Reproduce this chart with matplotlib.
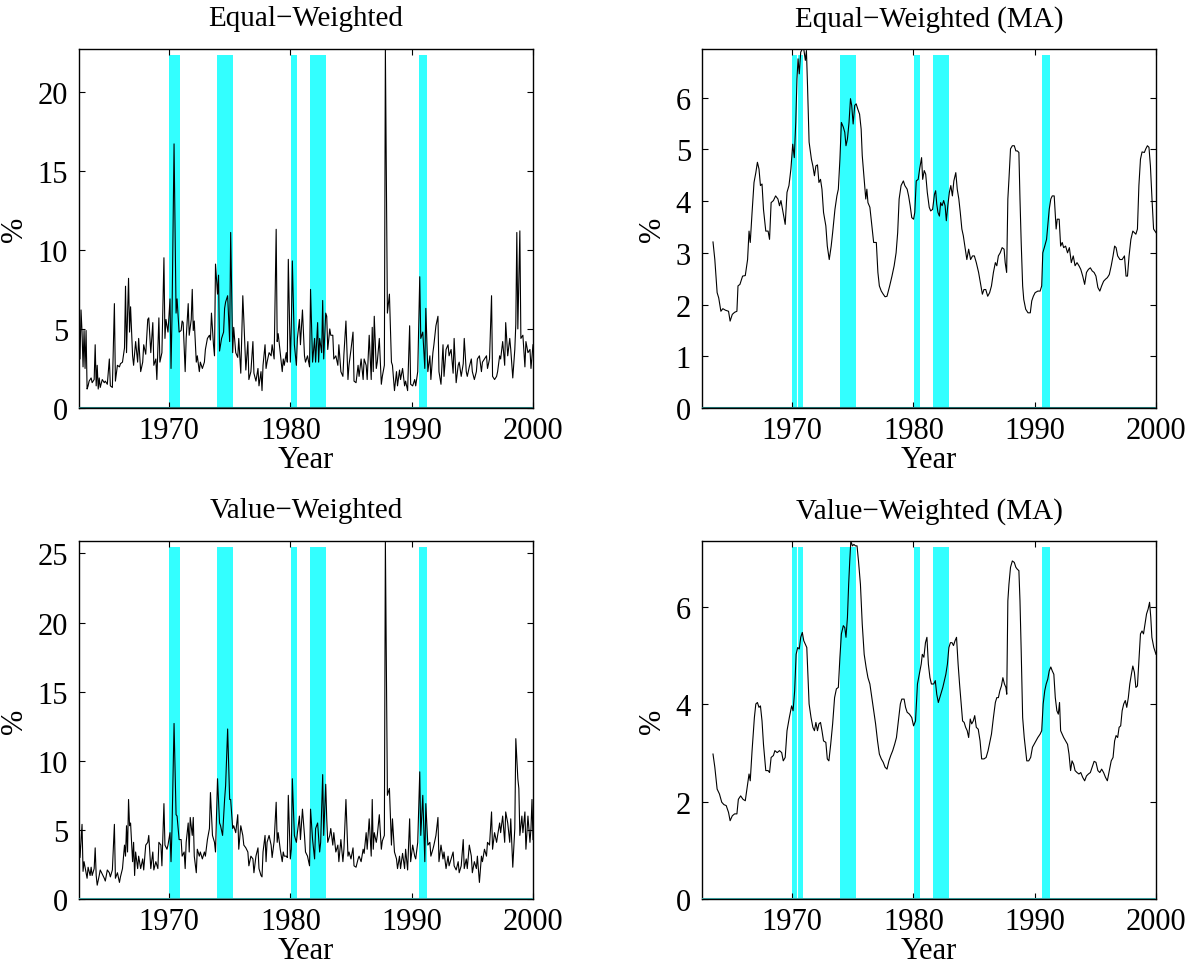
import numpy as np
import matplotlib
matplotlib.use("Agg")
import matplotlib.pyplot as plt

# ---- recessions (NBER peak / trough, year + month/12) --------------------
REC_START = [1970 + 0 / 12, 1973 + 11 / 12, 1980 + 1 / 12, 1981 + 7 / 12, 1990 + 7 / 12]
REC_END = [1970 + 11 / 12, 1975 + 3 / 12, 1980 + 7 / 12, 1982 + 11 / 12, 1991 + 3 / 12]

# ---- monthly volatility, months counted from 1962:07 ---------------------
ew_month = [0, 1, 2, 3, 4, 5, 6, 7, 8, 9, 10, 12, 13, 15, 16, 17, 18, 19, 20, 21, 23, 25, 26, 28, 30, 31,
            33, 35, 36, 38, 40, 41, 43, 45, 46, 47, 49, 50, 51, 53, 54, 56, 58, 59, 61, 63, 64, 66, 68, 69,
            71, 73, 74, 76, 77, 79, 80, 82, 84, 85, 86, 88, 90, 91, 92, 94, 96, 97, 99, 101, 102, 103, 105,
            106, 108, 109, 111, 112, 113, 114, 116, 117, 119, 120, 122, 124, 125, 127, 129, 130, 131, 133,
            134, 135, 137, 138, 139, 141, 143, 144, 145, 147, 149, 150, 152, 153, 155, 157, 158, 160, 162,
            163, 165, 167, 168, 170, 172, 173, 175, 177, 178, 180, 181, 182, 184, 185, 186, 188, 190, 191,
            193, 195, 196, 197, 199, 201, 202, 203, 205, 206, 207, 209, 210, 211, 213, 215, 216, 218, 219,
            221, 223, 224, 226, 228, 229, 231, 233, 234, 236, 237, 238, 240, 241, 242, 244, 245, 246, 248,
            249, 251, 252, 254, 256, 257, 259, 261, 262, 264, 266, 267, 269, 271, 272, 274, 276, 277, 279,
            281, 282, 284, 285, 287, 289, 290, 291, 292, 294, 295, 297, 299, 300, 302, 303, 305, 307, 309,
            310, 312, 314, 315, 317, 318, 320, 322, 323, 325, 327, 328, 330, 332, 333, 335, 337, 338, 340,
            342, 343, 345, 347, 348, 350, 351, 353, 355, 356, 358, 360, 361, 363, 365, 366, 368, 370, 371,
            373, 375, 376, 378, 380, 381, 383, 384, 386, 388, 389, 391, 393, 394, 396, 398, 399, 401, 403,
            404, 406, 408, 409, 411, 413, 414, 416, 417, 419, 421, 422, 424, 426, 427, 429, 431, 432, 433,
            434, 436, 437, 439, 441, 442, 444, 446, 447, 449]
ew_vol = [5.3, 3.1, 6.2, 4.8, 2.6, 4.9, 2.5, 4.9, 1.2, 1.4, 1.7, 1.9, 1.6, 1.8, 4.0, 1.4, 2.7, 1.2, 1.9, 1.3,
          1.8, 1.6, 1.7, 1.5, 3.1, 1.4, 1.3, 6.6, 1.7, 2.7, 2.6, 2.8, 2.9, 3.8, 7.7, 3.5, 8.2, 4.8, 6.4, 3.3,
          2.7, 4.2, 2.9, 4.4, 2.3, 2.9, 4.0, 3.4, 5.6, 5.7, 3.5, 5.4, 2.7, 3.1, 1.8, 5.7, 2.9, 3.5, 9.5, 4.4,
          5.6, 4.8, 6.9, 2.5, 5.8, 16.7, 6.0, 6.9, 4.8, 4.9, 5.5, 5.4, 2.3, 4.4, 6.6, 4.6, 5.6, 7.5, 4.9,
          5.5, 2.9, 3.3, 2.3, 2.9, 2.5, 2.9, 3.7, 4.4, 4.6, 4.3, 6.0, 4.0, 3.3, 9.1, 7.2, 8.4, 3.6, 4.4, 4.8,
          6.3, 6.7, 7.1, 4.2, 11.1, 3.5, 5.1, 3.5, 3.2, 4.4, 2.2, 7.1, 5.6, 2.4, 4.2, 1.8, 2.3, 4.2, 2.2,
          1.7, 2.5, 1.4, 2.3, 1.1, 2.7, 4.0, 2.5, 2.9, 3.5, 3.3, 4.0, 3.1, 11.3, 4.2, 4.7, 3.5, 2.3, 3.1,
          2.7, 3.5, 2.9, 9.4, 2.9, 5.2, 9.3, 4.0, 2.7, 4.4, 5.6, 4.0, 6.2, 3.3, 2.9, 3.3, 2.6, 7.5, 2.9, 4.4,
          2.9, 5.4, 2.9, 4.4, 3.5, 6.8, 3.1, 6.0, 5.8, 3.7, 5.0, 4.6, 4.6, 3.1, 3.3, 2.7, 4.0, 2.3, 2.0, 3.4,
          5.5, 1.8, 2.7, 3.7, 4.8, 1.7, 1.6, 2.7, 2.0, 3.1, 1.8, 3.1, 2.7, 1.8, 4.6, 1.8, 5.1, 2.3, 5.8, 2.5,
          2.9, 4.4, 1.5, 2.0, 2.7, 22.7, 6.0, 7.2, 2.9, 2.7, 1.1, 2.3, 1.4, 2.4, 1.8, 2.5, 1.4, 1.7, 1.1,
          5.2, 1.5, 1.4, 1.8, 1.4, 2.3, 8.3, 4.4, 4.8, 2.5, 6.3, 2.3, 3.3, 1.8, 3.5, 4.0, 5.2, 5.8, 2.3, 1.5,
          4.0, 2.0, 3.7, 4.0, 3.3, 3.7, 2.2, 4.4, 1.6, 2.7, 2.9, 2.0, 2.8, 4.4, 2.3, 2.0, 2.6, 3.1, 2.3, 1.8,
          2.3, 3.1, 3.3, 2.3, 2.9, 3.1, 3.3, 2.5, 3.1, 7.1, 2.0, 1.8, 2.0, 2.3, 3.3, 3.1, 4.2, 2.7, 5.4, 3.3,
          4.4, 3.7, 1.9, 3.7, 5.3, 11.1, 5.0, 11.2, 4.4, 4.6, 2.6, 4.2, 3.5, 3.7, 2.5, 4.0]

vw_month = [0, 1, 3, 4, 5, 7, 8, 9, 11, 12, 13, 15, 16, 17, 18, 20, 21, 23, 25, 26, 28, 30, 31, 33, 35, 36,
            38, 40, 41, 43, 45, 46, 47, 48, 49, 50, 51, 53, 54, 55, 56, 58, 59, 61, 63, 64, 66, 68, 69, 71,
            73, 74, 76, 78, 79, 81, 82, 84, 85, 87, 88, 90, 91, 92, 94, 96, 97, 99, 101, 102, 104, 105, 106,
            108, 109, 110, 112, 113, 114, 116, 117, 119, 120, 122, 124, 125, 127, 129, 130, 132, 134, 135,
            137, 139, 140, 142, 144, 145, 147, 149, 150, 152, 153, 155, 157, 158, 160, 162, 163, 165, 167,
            168, 170, 172, 173, 175, 177, 178, 180, 181, 182, 184, 185, 186, 188, 190, 191, 193, 195, 196,
            197, 199, 201, 202, 203, 205, 206, 207, 209, 210, 211, 213, 215, 216, 218, 219, 221, 223, 224,
            226, 228, 229, 231, 233, 234, 236, 238, 239, 241, 242, 244, 245, 246, 248, 249, 251, 252, 254,
            256, 257, 259, 261, 262, 264, 266, 267, 269, 271, 272, 274, 276, 277, 279, 281, 282, 284, 285,
            287, 289, 290, 291, 292, 294, 295, 297, 299, 300, 302, 303, 305, 307, 309, 310, 312, 314, 315,
            317, 318, 320, 322, 323, 325, 327, 328, 330, 332, 333, 335, 337, 338, 340, 342, 343, 345, 347,
            348, 350, 351, 353, 355, 356, 358, 360, 361, 363, 365, 366, 368, 370, 371, 373, 375, 376, 378,
            380, 381, 383, 384, 386, 388, 389, 391, 393, 394, 396, 398, 399, 401, 403, 404, 406, 408, 409,
            411, 413, 414, 416, 417, 419, 421, 422, 424, 426, 427, 429, 431, 432, 434, 435, 436, 438, 439,
            441, 442, 444, 446, 447, 448, 449]
vw_vol = [4.9, 3.0, 5.4, 2.0, 2.7, 1.9, 1.5, 2.3, 1.7, 2.3, 1.7, 2.2, 3.7, 1.7, 1.0, 1.7, 2.1, 1.8, 1.5, 1.3,
          2.1, 1.9, 1.6, 2.1, 5.4, 1.5, 1.9, 1.2, 1.6, 2.2, 3.9, 3.1, 5.3, 3.4, 7.2, 5.3, 5.5, 2.7, 4.1, 1.7,
          3.4, 2.2, 3.1, 2.2, 2.9, 2.1, 3.9, 4.1, 4.6, 2.2, 3.4, 2.1, 2.7, 2.2, 4.1, 3.9, 2.4, 6.9, 3.9, 3.6,
          3.9, 4.8, 2.7, 5.1, 12.7, 6.1, 6.0, 4.3, 4.3, 3.1, 3.4, 2.2, 4.1, 5.5, 3.4, 5.9, 4.6, 5.9, 3.1,
          1.9, 3.6, 3.1, 3.4, 2.9, 3.4, 3.1, 4.3, 5.1, 7.7, 4.6, 4.1, 3.4, 8.7, 5.5, 5.3, 4.6, 7.2, 8.2, 12.3,
          7.2, 7.2, 5.1, 5.3, 4.8, 6.1, 3.6, 5.3, 4.6, 3.9, 3.7, 3.4, 2.4, 3.1, 2.9, 1.9, 3.1, 3.7, 2.2, 1.7,
          1.6, 3.4, 4.6, 2.7, 4.1, 4.6, 3.9, 3.0, 4.2, 7.0, 4.1, 4.8, 3.6, 2.7, 3.4, 3.1, 3.1, 3.0, 7.5, 2.9,
          3.6, 8.7, 4.6, 4.1, 4.8, 6.0, 4.3, 6.5, 4.6, 3.4, 3.1, 2.4, 6.5, 4.3, 2.9, 5.1, 5.5, 3.4, 4.1, 9.0,
          4.6, 8.3, 5.8, 4.1, 4.6, 5.1, 3.9, 4.8, 3.4, 3.9, 2.7, 4.3, 2.7, 3.6, 7.2, 3.1, 3.4, 2.9, 3.7, 2.4,
          2.3, 2.9, 3.1, 2.7, 3.6, 3.3, 4.8, 3.6, 5.8, 3.1, 7.2, 3.6, 4.8, 4.1, 4.6, 6.1, 3.6, 4.2, 4.6,
          25.9, 7.5, 8.0, 3.9, 5.8, 3.4, 2.9, 2.2, 3.1, 2.2, 3.3, 2.2, 3.6, 2.1, 5.8, 2.7, 3.9, 3.1, 2.9, 4.1,
          9.2, 4.6, 7.5, 2.7, 6.9, 3.9, 4.1, 3.1, 3.6, 3.9, 4.6, 5.9, 2.7, 3.9, 2.9, 3.4, 2.2, 3.1, 2.4, 2.9,
          3.4, 2.4, 2.1, 2.7, 1.9, 2.4, 4.3, 2.2, 2.9, 2.2, 3.9, 3.1, 1.9, 2.7, 2.2, 3.1, 1.2, 3.1, 2.7, 3.6,
          3.1, 4.1, 3.9, 6.3, 3.6, 4.8, 4.1, 4.6, 5.5, 4.8, 6.0, 4.1, 6.3, 5.5, 4.1, 5.8, 2.3, 5.1, 11.6, 8.7,
          8.0, 4.6, 6.0, 4.8, 6.3, 3.6, 6.0, 4.1, 5.1, 7.2, 4.3]

# ---- moving averages (decimal year, %) -----------------------------------
ew_ma_year = [1963.49, 1963.64, 1963.83, 1963.96, 1964.14, 1964.30, 1964.52, 1964.77, 1964.90, 1965.08,
              1965.27, 1965.46, 1965.55, 1965.71, 1965.93, 1966.15, 1966.34, 1966.46, 1966.56, 1966.71,
              1966.87, 1967.02, 1967.15, 1967.28, 1967.40, 1967.53, 1967.65, 1967.84, 1968.03, 1968.15,
              1968.28, 1968.47, 1968.65, 1968.84, 1968.97, 1969.09, 1969.22, 1969.44, 1969.59, 1969.75,
              1969.91, 1970.06, 1970.19, 1970.31, 1970.41, 1970.50, 1970.60, 1970.72, 1970.85, 1970.97,
              1971.10, 1971.19, 1971.28, 1971.41, 1971.60, 1971.72, 1971.85, 1971.97, 1972.10, 1972.22,
              1972.35, 1972.47, 1972.60, 1972.79, 1972.91, 1973.07, 1973.23, 1973.35, 1973.54, 1973.70,
              1973.82, 1973.95, 1974.07, 1974.23, 1974.35, 1974.45, 1974.57, 1974.70, 1974.82, 1974.92,
              1975.04, 1975.17, 1975.29, 1975.42, 1975.57, 1975.70, 1975.79, 1975.95, 1976.08, 1976.17,
              1976.26, 1976.42, 1976.58, 1976.73, 1976.95, 1977.08, 1977.20, 1977.36, 1977.52, 1977.67,
              1977.83, 1977.92, 1978.05, 1978.24, 1978.42, 1978.58, 1978.71, 1978.83, 1978.99, 1979.18,
              1979.30, 1979.49, 1979.61, 1979.74, 1979.87, 1980.02, 1980.12, 1980.24, 1980.40, 1980.52,
              1980.68, 1980.77, 1980.90, 1981.02, 1981.15, 1981.31, 1981.43, 1981.59, 1981.74, 1981.84,
              1981.93, 1982.03, 1982.15, 1982.25, 1982.37, 1982.50, 1982.62, 1982.72, 1982.84, 1982.97,
              1983.09, 1983.22, 1983.34, 1983.50, 1983.62, 1983.75, 1983.87, 1984.00, 1984.12, 1984.25,
              1984.41, 1984.56, 1984.72, 1984.88, 1985.03, 1985.19, 1985.38, 1985.57, 1985.69, 1985.82,
              1985.97, 1986.13, 1986.29, 1986.44, 1986.60, 1986.76, 1986.88, 1987.01, 1987.16, 1987.32,
              1987.48, 1987.57, 1987.69, 1987.79, 1987.88, 1988.01, 1988.16, 1988.32, 1988.45, 1988.57,
              1988.70, 1988.79, 1988.89, 1989.01, 1989.10, 1989.26, 1989.45, 1989.64, 1989.76, 1989.89,
              1990.04, 1990.26, 1990.45, 1990.58, 1990.67, 1990.83, 1990.98, 1991.08, 1991.20, 1991.33,
              1991.45, 1991.61, 1991.77, 1991.86, 1992.02, 1992.14, 1992.27, 1992.39, 1992.55, 1992.71,
              1992.86, 1993.02, 1993.18, 1993.33, 1993.49, 1993.65, 1993.80, 1993.96, 1994.12, 1994.27,
              1994.43, 1994.59, 1994.74, 1994.90, 1995.05, 1995.21, 1995.37, 1995.52, 1995.68, 1995.84,
              1995.99, 1996.15, 1996.31, 1996.46, 1996.59, 1996.71, 1996.84, 1997.03, 1997.21, 1997.40,
              1997.53, 1997.65, 1997.78, 1997.93, 1998.09, 1998.22, 1998.34, 1998.47, 1998.59, 1998.72,
              1998.85, 1999.04, 1999.16, 1999.29, 1999.42, 1999.54, 1999.67, 1999.80, 2000.00]
ew_ma = [3.21, 2.87, 2.23, 2.13, 1.87, 1.92, 1.89, 1.87, 1.68, 1.81, 1.85, 1.87, 2.36, 2.39, 2.55, 2.56, 2.87,
         3.42, 3.20, 3.78, 4.36, 4.55, 4.75, 4.62, 4.30, 4.33, 3.84, 3.42, 3.42, 3.26, 3.97, 4.01, 4.10, 4.04,
         3.91, 4.01, 3.84, 3.55, 4.17, 4.30, 4.62, 5.10, 4.84, 5.52, 6.36, 6.75, 6.46, 6.88, 6.94, 6.94, 6.72,
         6.91, 6.23, 5.14, 4.81, 4.68, 4.49, 4.68, 4.70, 4.36, 4.42, 4.23, 3.78, 3.52, 3.13, 2.87, 3.13, 3.39,
         3.84, 4.10, 4.23, 4.81, 5.52, 5.43, 5.33, 5.07, 5.20, 5.52, 5.98, 5.85, 5.49, 5.85, 5.88, 5.78, 5.68,
         5.39, 4.88, 4.42, 4.04, 4.23, 3.97, 3.88, 3.52, 3.20, 3.20, 2.62, 2.36, 2.26, 2.20, 2.15, 2.16, 2.24,
         2.36, 2.55, 2.75, 3.00, 3.39, 4.04, 4.30, 4.39, 4.30, 4.23, 4.10, 3.91, 3.68, 3.65, 3.78, 4.39, 4.42,
         4.62, 4.84, 4.42, 4.59, 4.52, 4.17, 3.88, 3.81, 3.84, 4.13, 4.20, 3.94, 3.78, 3.71, 3.97, 3.91, 4.01,
         3.91, 3.62, 3.91, 4.17, 4.30, 4.10, 4.39, 4.55, 4.23, 4.04, 3.78, 3.46, 3.33, 3.13, 2.87, 3.07, 2.87,
         2.94, 2.94, 2.81, 2.62, 2.36, 2.20, 2.29, 2.29, 2.16, 2.23, 2.36, 2.62, 2.81, 2.75, 2.94, 3.00, 3.10,
         3.07, 2.81, 2.62, 4.04, 4.42, 5.01, 5.07, 5.07, 4.97, 4.97, 4.94, 4.04, 3.20, 2.36, 2.10, 1.91, 1.84,
         1.84, 2.07, 2.16, 2.23, 2.26, 2.26, 2.36, 3.00, 3.13, 3.26, 3.52, 3.84, 4.04, 4.10, 4.10, 3.46, 3.65,
         3.65, 3.13, 3.20, 3.10, 3.13, 3.00, 3.10, 2.81, 2.94, 2.75, 2.81, 2.75, 2.68, 2.55, 2.39, 2.62, 2.68,
         2.71, 2.65, 2.62, 2.55, 2.33, 2.26, 2.36, 2.45, 2.49, 2.52, 2.58, 2.75, 2.94, 3.13, 3.10, 2.94, 2.87,
         2.87, 2.94, 2.55, 2.55, 2.94, 3.26, 3.42, 3.39, 3.36, 3.46, 4.30, 4.81, 4.95, 4.94, 5.01, 5.07, 5.04,
         4.68, 4.04, 3.46, 3.39]

vw_ma_year = [1963.49, 1963.64, 1963.83, 1964.02, 1964.21, 1964.39, 1964.58, 1964.77, 1964.90, 1965.08,
              1965.27, 1965.46, 1965.58, 1965.77, 1965.96, 1966.15, 1966.34, 1966.46, 1966.56, 1966.71,
              1966.90, 1967.02, 1967.15, 1967.28, 1967.40, 1967.53, 1967.65, 1967.84, 1968.03, 1968.15,
              1968.28, 1968.47, 1968.59, 1968.78, 1968.97, 1969.15, 1969.28, 1969.44, 1969.59, 1969.78,
              1969.97, 1970.09, 1970.22, 1970.34, 1970.47, 1970.60, 1970.72, 1970.85, 1970.97, 1971.10,
              1971.22, 1971.32, 1971.41, 1971.57, 1971.72, 1971.85, 1971.97, 1972.10, 1972.22, 1972.35,
              1972.47, 1972.60, 1972.79, 1972.91, 1973.04, 1973.19, 1973.35, 1973.51, 1973.66, 1973.82,
              1973.95, 1974.07, 1974.23, 1974.35, 1974.45, 1974.57, 1974.67, 1974.76, 1974.85, 1974.98,
              1975.10, 1975.23, 1975.36, 1975.48, 1975.64, 1975.79, 1975.95, 1976.11, 1976.26, 1976.42,
              1976.58, 1976.73, 1976.89, 1977.05, 1977.20, 1977.36, 1977.52, 1977.67, 1977.83, 1977.99,
              1978.14, 1978.30, 1978.46, 1978.61, 1978.77, 1978.93, 1979.05, 1979.24, 1979.36, 1979.49,
              1979.68, 1979.87, 1980.02, 1980.18, 1980.34, 1980.49, 1980.65, 1980.74, 1980.87, 1981.00,
              1981.12, 1981.24, 1981.37, 1981.49, 1981.68, 1981.81, 1981.93, 1982.06, 1982.18, 1982.31,
              1982.43, 1982.56, 1982.68, 1982.81, 1982.93, 1983.06, 1983.19, 1983.31, 1983.44, 1983.56,
              1983.69, 1983.81, 1983.94, 1984.06, 1984.19, 1984.31, 1984.44, 1984.56, 1984.69, 1984.81,
              1984.94, 1985.06, 1985.19, 1985.35, 1985.50, 1985.63, 1985.82, 1986.00, 1986.16, 1986.32,
              1986.44, 1986.60, 1986.76, 1986.88, 1987.01, 1987.13, 1987.26, 1987.38, 1987.51, 1987.63,
              1987.70, 1987.79, 1987.88, 1988.01, 1988.16, 1988.32, 1988.45, 1988.57, 1988.70, 1988.79,
              1988.89, 1989.01, 1989.14, 1989.26, 1989.35, 1989.51, 1989.67, 1989.82, 1989.95, 1990.11,
              1990.26, 1990.45, 1990.58, 1990.70, 1990.83, 1990.95, 1991.08, 1991.20, 1991.33, 1991.45,
              1991.58, 1991.70, 1991.83, 1991.95, 1992.05, 1992.14, 1992.27, 1992.39, 1992.55, 1992.71,
              1992.83, 1992.96, 1993.08, 1993.21, 1993.33, 1993.49, 1993.65, 1993.80, 1993.96, 1994.12,
              1994.27, 1994.43, 1994.59, 1994.74, 1994.90, 1995.05, 1995.21, 1995.37, 1995.52, 1995.68,
              1995.84, 1995.99, 1996.15, 1996.31, 1996.46, 1996.59, 1996.71, 1996.84, 1996.96, 1997.09,
              1997.21, 1997.34, 1997.47, 1997.59, 1997.72, 1997.84, 1997.97, 1998.09, 1998.22, 1998.34,
              1998.47, 1998.59, 1998.72, 1998.85, 1998.97, 1999.09, 1999.22, 1999.35, 1999.47, 1999.57,
              1999.66, 1999.82, 2000.00]
vw_ma = [2.98, 2.71, 2.26, 2.16, 1.99, 1.94, 1.92, 1.78, 1.61, 1.71, 1.75, 1.75, 2.05, 2.12, 2.05, 2.02, 2.36,
         2.57, 2.43, 3.05, 3.73, 4.01, 4.04, 3.94, 3.97, 3.66, 3.18, 2.64, 2.64, 2.60, 2.91, 2.95, 3.05, 3.01,
         3.05, 3.01, 2.84, 2.91, 3.46, 3.73, 3.97, 3.87, 4.28, 5.03, 5.17, 5.14, 5.38, 5.48, 5.31, 5.24, 5.17,
         4.55, 4.01, 3.73, 3.53, 3.46, 3.63, 3.46, 3.60, 3.63, 3.46, 3.25, 3.22, 2.88, 2.84, 3.18, 3.60, 4.14,
         4.32, 4.35, 4.97, 5.45, 5.62, 5.58, 5.38, 5.79, 6.47, 6.95, 7.36, 7.26, 7.29, 7.26, 7.26, 6.95, 6.47,
         5.65, 5.03, 4.76, 4.55, 4.42, 4.14, 3.87, 3.60, 3.25, 2.98, 2.88, 2.81, 2.71, 2.67, 2.84, 2.95, 3.05,
         3.18, 3.32, 3.66, 4.01, 4.11, 4.11, 3.94, 3.84, 3.80, 3.73, 3.56, 3.66, 4.42, 4.62, 4.83, 5.03, 4.97,
         5.27, 5.38, 4.83, 4.55, 4.42, 4.42, 4.49, 4.21, 4.04, 4.14, 4.25, 4.35, 4.49, 4.62, 4.83, 5.17, 5.27,
         5.27, 5.21, 5.31, 5.38, 4.83, 4.42, 4.01, 3.66, 3.63, 3.53, 3.46, 3.32, 3.70, 3.60, 3.66, 3.77, 3.53,
         3.49, 3.25, 2.88, 2.88, 2.91, 3.05, 3.25, 3.39, 3.73, 4.04, 4.14, 4.14, 4.28, 4.38, 4.55, 4.42, 4.35,
         4.21, 6.13, 6.47, 6.82, 6.95, 6.92, 6.82, 6.78, 6.75, 6.13, 5.10, 3.73, 3.32, 3.05, 2.84, 2.84, 2.91,
         3.12, 3.18, 3.25, 3.32, 3.39, 3.46, 4.01, 4.28, 4.42, 4.52, 4.69, 4.77, 4.69, 4.62, 4.14, 3.87, 3.80,
         4.04, 3.46, 3.39, 3.32, 3.25, 3.18, 2.98, 2.64, 2.84, 2.77, 2.64, 2.60, 2.57, 2.60, 2.50, 2.43, 2.53,
         2.57, 2.60, 2.71, 2.83, 2.81, 2.64, 2.60, 2.67, 2.60, 2.50, 2.43, 2.64, 2.84, 2.91, 3.25, 3.36, 3.32,
         3.53, 3.56, 3.87, 4.01, 4.08, 3.94, 4.14, 4.42, 4.62, 4.79, 4.66, 4.35, 4.38, 4.90, 5.45, 5.51, 5.45,
         5.65, 5.86, 5.96, 6.10, 5.79, 5.38, 5.17, 5.03]

TITLES = ["Equal\u2212Weighted", "Equal\u2212Weighted (MA)",
          "Value\u2212Weighted", "Value\u2212Weighted (MA)"]
YTICKS = [[0, 5, 10, 15, 20], [0, 1, 2, 3, 4, 5, 6], [0, 5, 10, 15, 20, 25], [0, 2, 4, 6]]

START = 1962 + 7 / 12
XMAX = 2000.0

plt.rcParams.update({
    "font.family": ["Liberation Serif", "DejaVu Serif"],
    "font.size": 22,
    "axes.linewidth": 1.0,
    "xtick.direction": "in", "ytick.direction": "in",
    "xtick.top": True, "ytick.right": True,
    "xtick.major.size": 4, "ytick.major.size": 4,
    "xtick.major.pad": 6, "ytick.major.pad": 8,
    "xtick.labelsize": 22, "ytick.labelsize": 22,
})

fig = plt.figure(figsize=(11.92, 9.70), dpi=100)
W, H = 1192, 970
rects = [(79, 50, 533, 409), (702, 50, 1156, 409), (79, 542, 533, 900), (702, 542, 1156, 900)]

ew_t = START + np.array(ew_month) / 12
vw_t = START + np.array(vw_month) / 12
series = [(ew_t, ew_vol), (np.array(ew_ma_year), ew_ma),
          (vw_t, vw_vol), (np.array(vw_ma_year), vw_ma)]
base_colors = ["#1d6a6a", "#1d6a6a", "#3a9898", "#3a9898"]

for i, (l, t, r, b) in enumerate(rects):
    ax = fig.add_axes([l / W, 1 - b / H, (r - l) / W, (b - t) / H])
    x, y = series[i]
    ytop = max(y)
    bar_h = 0.982 * ytop
    for s, e in zip(REC_START, REC_END):
        ax.fill_between([s, e], 0, bar_h, color="#33ffff", lw=0, zorder=1)
    if i % 2 == 1:
        # thin light seam inside the first band, as in the original rendering
        ax.plot([1970.45, 1970.45], [0, bar_h], color="white", lw=0.8, zorder=1.5)
    ax.plot(x, y, color="black", lw=0.8, zorder=3)
    ax.axhline(0, color=base_colors[i], lw=2.2, zorder=4)
    ax.set_xlim(START, XMAX)
    ax.set_ylim(0, ytop)
    ax.set_xticks([1970, 1980, 1990, 2000])
    ax.set_yticks(YTICKS[i])
    ax.set_title(TITLES[i], fontsize=21, pad=17)
    ax.set_xlabel("Year", fontsize=22, labelpad=0)
    ax.set_ylabel("%", fontsize=22, labelpad=6)

fig.savefig("out.png", dpi=100)
